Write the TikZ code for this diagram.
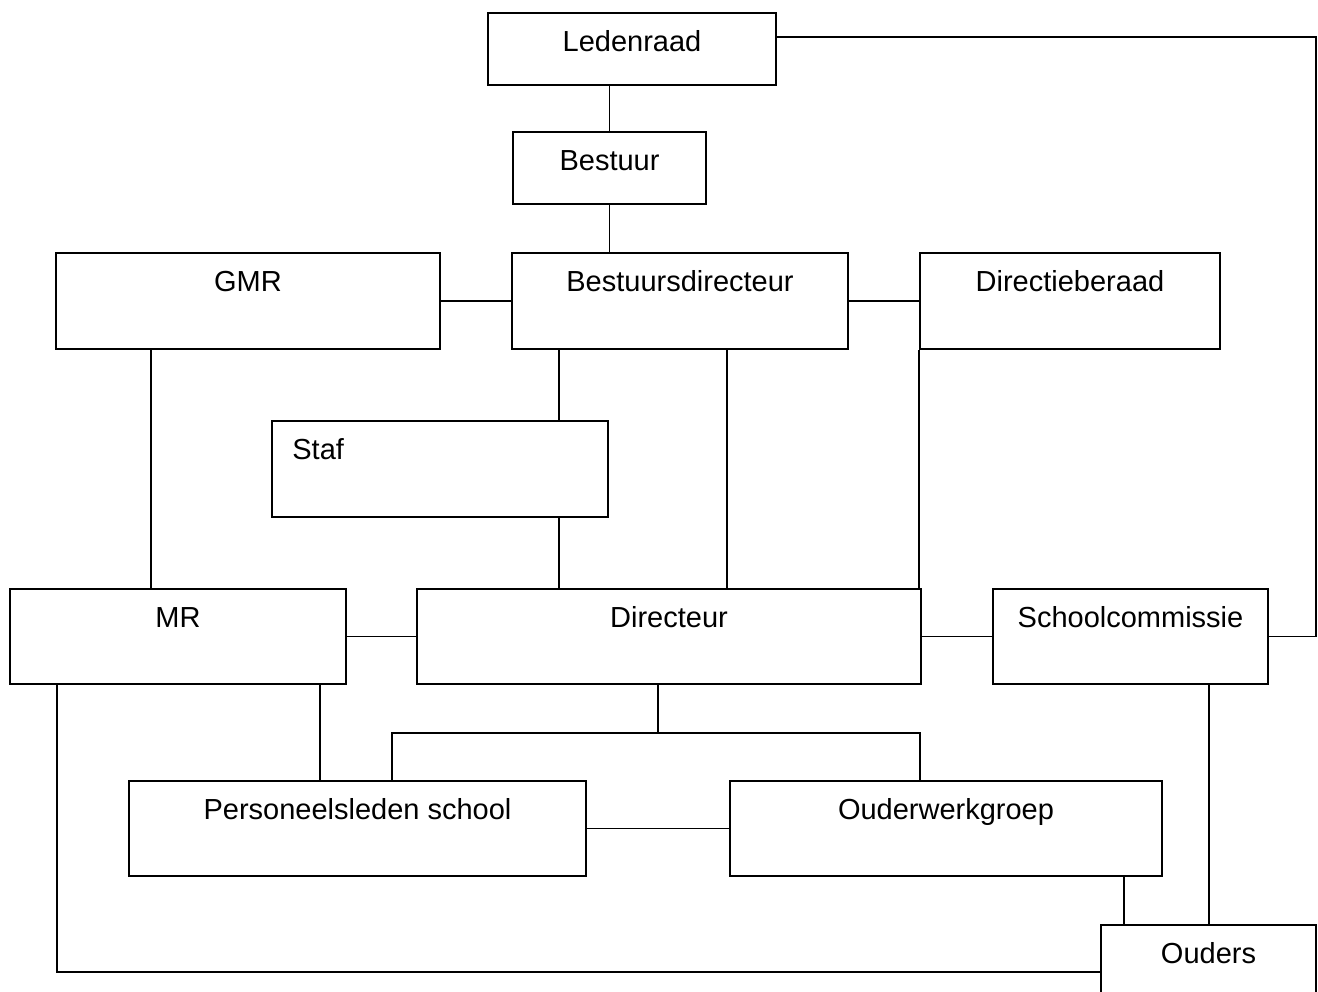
\documentclass[tikz,border=0pt]{standalone}
\usepackage{fontspec}
\setmainfont{Liberation Sans}
\begin{document}
\begin{tikzpicture}[x=1pt,y=-1pt,
  orgbox/.style={draw, line width=1.6pt, rectangle, inner sep=0pt},
  lbl/.style={anchor=base, yshift=-39pt, inner sep=0pt, font=\fontsize{29}{34}\selectfont},
  conn/.style={line width=1.6pt}]
\useasboundingbox (0,0) rectangle (1318,992);
\node[orgbox, minimum width=288pt, minimum height=72pt, label={[lbl]north:Ledenraad}] (led) at (632,49) {};
\node[orgbox, minimum width=193pt, minimum height=72pt, label={[lbl]north:Bestuur}] (bes) at (609.5,168) {};
\node[orgbox, minimum width=384pt, minimum height=96pt, label={[lbl]north:GMR}] (gmr) at (248,301) {};
\node[orgbox, minimum width=336pt, minimum height=96pt, label={[lbl]north:Bestuursdirecteur}] (bd) at (680,301) {};
\node[orgbox, minimum width=300pt, minimum height=96pt, label={[lbl]north:Directieberaad}] (db) at (1070,301) {};
\node[orgbox, minimum width=336pt, minimum height=96pt, label={[lbl, anchor=base west, xshift=21pt]north west:Staf}] (staf) at (440,469) {};
\node[orgbox, minimum width=336pt, minimum height=95pt, label={[lbl]north:MR}] (mr) at (178,636.5) {};
\node[orgbox, minimum width=504pt, minimum height=95pt, label={[lbl]north:Directeur}] (dir) at (669,636.5) {};
\node[orgbox, minimum width=275pt, minimum height=95pt, label={[lbl]north:Schoolcommissie}] (sc) at (1130.5,636.5) {};
\node[orgbox, minimum width=457pt, minimum height=95pt, label={[lbl]north:Personeelsleden school}] (ps) at (357.5,828.5) {};
\node[orgbox, minimum width=432pt, minimum height=95pt, label={[lbl]north:Ouderwerkgroep}] (ow) at (946,828.5) {};
\node[orgbox, minimum width=215pt, minimum height=94pt, label={[lbl]north:Ouders}] (ou) at (1208.5,972) {};
% connectors
\coordinate (rt) at (1316,37);
\coordinate (jn) at (658,733);
\draw[conn] (bes.north) -- (bes.north |- led.south);
\draw[conn] (bes.south) -- (bes.south |- bd.north);
\draw[conn] (led.east |- rt) -- (rt) |- (sc.east);
\draw[conn] (gmr.east) -- (bd.west);
\draw[conn] (bd.east) -- (db.west);
\draw[conn] ([xshift=96pt]gmr.south west) -- ([xshift=96pt]gmr.south west |- mr.north);
\draw[conn] ([xshift=48pt]bd.south west) -- ([xshift=48pt]bd.south west |- staf.north);
\draw[conn] ([xshift=216pt]bd.south west) -- ([xshift=216pt]bd.south west |- dir.north);
\draw[conn] (db.south west) -- (db.south west |- dir.north);
\draw[conn] ([xshift=288pt]staf.south west) -- ([xshift=288pt]staf.south west |- dir.north);
\draw[conn] (mr.east) -- (dir.west);
\draw[conn] (dir.east) -- (sc.west);
\draw[conn] (jn |- dir.south) -- (jn);
\draw[conn] ([xshift=264pt]ps.north west) |- (jn) -| ([xshift=191pt]ow.north west);
\draw[conn] ([xshift=311pt]mr.south west) -- ([xshift=311pt]mr.south west |- ps.north);
\draw[conn] ([xshift=48pt]mr.south west) |- (ou.west);
\draw[conn] (ps.east) -- (ow.west);
\draw[conn] ([xshift=395pt]ow.south west) -- ([xshift=395pt]ow.south west |- ou.north);
\draw[conn] ([xshift=217pt]sc.south west) -- ([xshift=217pt]sc.south west |- ou.north);
\end{tikzpicture}
\end{document}
